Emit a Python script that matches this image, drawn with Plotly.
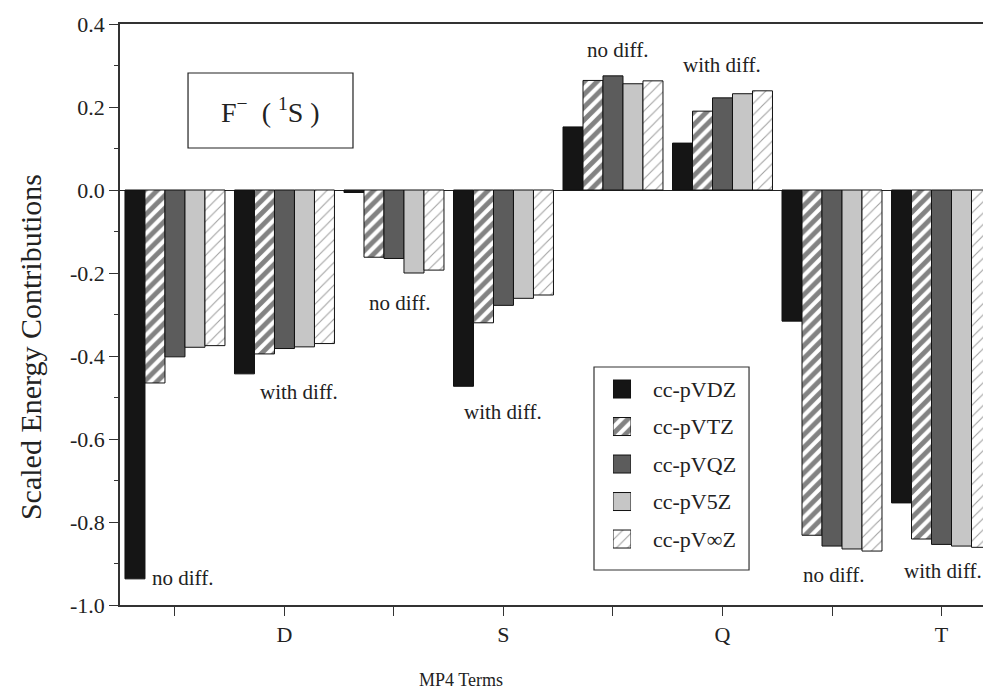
import plotly.graph_objects as go

# ---- data ----
groups = ["D no diff.", "D with diff.", "S no diff.", "S with diff.",
          "Q no diff.", "Q with diff.", "T no diff.", "T with diff."]
group_pos = [0, 1, 2, 3, 4, 5, 6, 7]
x_label_pos = [1, 3, 5, 7]
x_tick_text = ["D", "S", "Q", "T"]

basis_sets = ["cc-pVDZ", "cc-pVTZ", "cc-pVQZ", "cc-pV5Z", "cc-pV∞Z"]
cc_pVDZ = [-0.937, -0.443, -0.006, -0.473, 0.152, 0.113, -0.316, -0.754]
cc_pVTZ = [-0.465, -0.395, -0.162, -0.320, 0.264, 0.190, -0.832, -0.841]
cc_pVQZ = [-0.402, -0.382, -0.165, -0.278, 0.275, 0.222, -0.858, -0.854]
cc_pV5Z = [-0.379, -0.378, -0.200, -0.261, 0.256, 0.232, -0.865, -0.858]
cc_pVinfZ = [-0.375, -0.370, -0.193, -0.253, 0.263, 0.239, -0.870, -0.861]
series = [cc_pVDZ, cc_pVTZ, cc_pVQZ, cc_pV5Z, cc_pVinfZ]

y_tick_vals = [0.4, 0.2, 0.0, -0.2, -0.4, -0.6, -0.8, -1.0]
y_tick_text = ["0.4", "0.2", "0.0", "-0.2", "-0.4", "-0.6", "-0.8", "-1.0"]

label_text = ["no diff.", "with diff.", "no diff.", "with diff.",
              "no diff.", "with diff.", "no diff.", "with diff."]
label_x = [0.07, 1.13, 2.05, 3.0, 4.04, 5.0, 6.01, 7.01]
label_y = [-0.934, -0.487, -0.273, -0.536, 0.337, 0.302, -0.927, -0.918]

legend_rows = [0, 1, 2, 3, 4]

# ---- styles ----
FONT = "Liberation Serif, Times New Roman, Times, serif"
TXT = "#222222"
styles = [
    dict(color="#151515", pattern=dict(shape="")),
    dict(color="white", pattern=dict(shape="/", fgcolor="#050505", bgcolor="white",
                                     size=9, solidity=0.55, fillmode="overlay")),
    dict(color="#5c5c5c", pattern=dict(shape="")),
    dict(color="#c6c6c6", pattern=dict(shape="")),
    dict(color="white", pattern=dict(shape="/", fgcolor="#444444", bgcolor="white",
                                     size=8, solidity=0.14, fillmode="overlay")),
]

fig = go.Figure()

# legend frame (drawn first, below everything)
fig.add_shape(type="rect", xref="paper", yref="paper",
              x0=0.5442, x1=0.7222, y0=0.0602, y1=0.4096,
              line=dict(color="#333", width=1.2), fillcolor="white", layer="below")

for i, (name, vals) in enumerate(zip(basis_sets, series)):
    st = styles[i]
    fig.add_trace(go.Bar(
        x=group_pos, y=vals, name=name, showlegend=False,
        marker=dict(color=st["color"], pattern=st["pattern"],
                    line=dict(color="#111111", width=1)),
    ))

# custom legend: swatches drawn as bars on a small inset axis
for i, name in enumerate(basis_sets):
    st = styles[i]
    fig.add_trace(go.Bar(
        x=[1], y=[legend_rows[i]], base=0, orientation="h", width=0.48,
        xaxis="x2", yaxis="y2", showlegend=False, hoverinfo="skip",
        marker=dict(color=st["color"], pattern=st["pattern"],
                    line=dict(color="#111111", width=1)),
    ))
    fig.add_annotation(xref="paper", yref="y2", x=0.6096, y=legend_rows[i],
                       text=name, showarrow=False, xanchor="left", yanchor="middle",
                       font=dict(family=FONT, size=22, color=TXT))

for t, xx, yy in zip(label_text, label_x, label_y):
    fig.add_annotation(x=xx, y=yy, text=t, showarrow=False,
                       xanchor="center", yanchor="middle",
                       font=dict(family=FONT, size=21, color=TXT))

# F- (1S) box
fig.add_shape(type="rect", xref="paper", yref="paper",
              x0=0.0781, x1=0.2675, y0=0.7866, y1=0.9157,
              line=dict(color="#222", width=1.2), fillcolor="white", layer="above")
fig.add_annotation(xref="paper", yref="paper", x=0.1728, y=0.851,
                   xanchor="center", yanchor="middle",
                   text="F<sup>−</sup>  ( <sup>1</sup>S )", showarrow=False,
                   font=dict(family=FONT, size=28, color=TXT))

# axis titles as annotations
fig.add_annotation(xref="paper", yref="paper", x=0.3915, y=-0.129,
                   text="MP4 Terms", showarrow=False,
                   xanchor="center", yanchor="middle",
                   font=dict(family=FONT, size=18, color=TXT))
fig.add_annotation(xref="paper", yref="paper", x=-0.1033, y=0.444,
                   text="Scaled Energy Contributions", showarrow=False,
                   textangle=-90, xanchor="center", yanchor="middle",
                   font=dict(family=FONT, size=30, color=TXT))

fig.update_layout(
    width=983, height=686,
    margin=dict(l=112, r=0, t=16, b=89),
    paper_bgcolor="white", plot_bgcolor="rgba(0,0,0,0)",
    barmode="group", bargap=0.087, bargroupgap=0,
    font=dict(family=FONT, size=20, color=TXT),
    showlegend=False,
    xaxis=dict(range=[-0.502, 7.452], tickvals=x_label_pos, ticktext=x_tick_text,
               ticks="outside", ticklen=9, tickcolor="#333", tickwidth=1.2,
               minor=dict(ticks="outside", ticklen=9, dtick=1, tick0=0,
                          tickcolor="#333", tickwidth=1.2),
               showline=True, linecolor="#333", linewidth=1.5, mirror=True,
               showgrid=False, zeroline=False,
               tickfont=dict(family=FONT, size=22, color=TXT)),
    yaxis=dict(range=[-1.0, 0.4], tickvals=y_tick_vals, ticktext=y_tick_text,
               ticks="outside", ticklen=9, tickcolor="#333", tickwidth=1.2,
               minor=dict(ticks="outside", ticklen=4, dtick=0.1, tick0=0,
                          tickcolor="#333"),
               showline=True, linecolor="#333", linewidth=1.5,
               showgrid=False, zeroline=True, zerolinecolor="#222", zerolinewidth=1.2,
               tickfont=dict(family=FONT, size=22, color=TXT)),
    xaxis2=dict(domain=[0.566, 0.5867], range=[0, 1], anchor="y2",
                visible=False, fixedrange=True),
    yaxis2=dict(domain=[0.0813, 0.404], range=[4.5, -0.5], anchor="x2",
                visible=False, fixedrange=True),
)

fig.write_html("out.html")
